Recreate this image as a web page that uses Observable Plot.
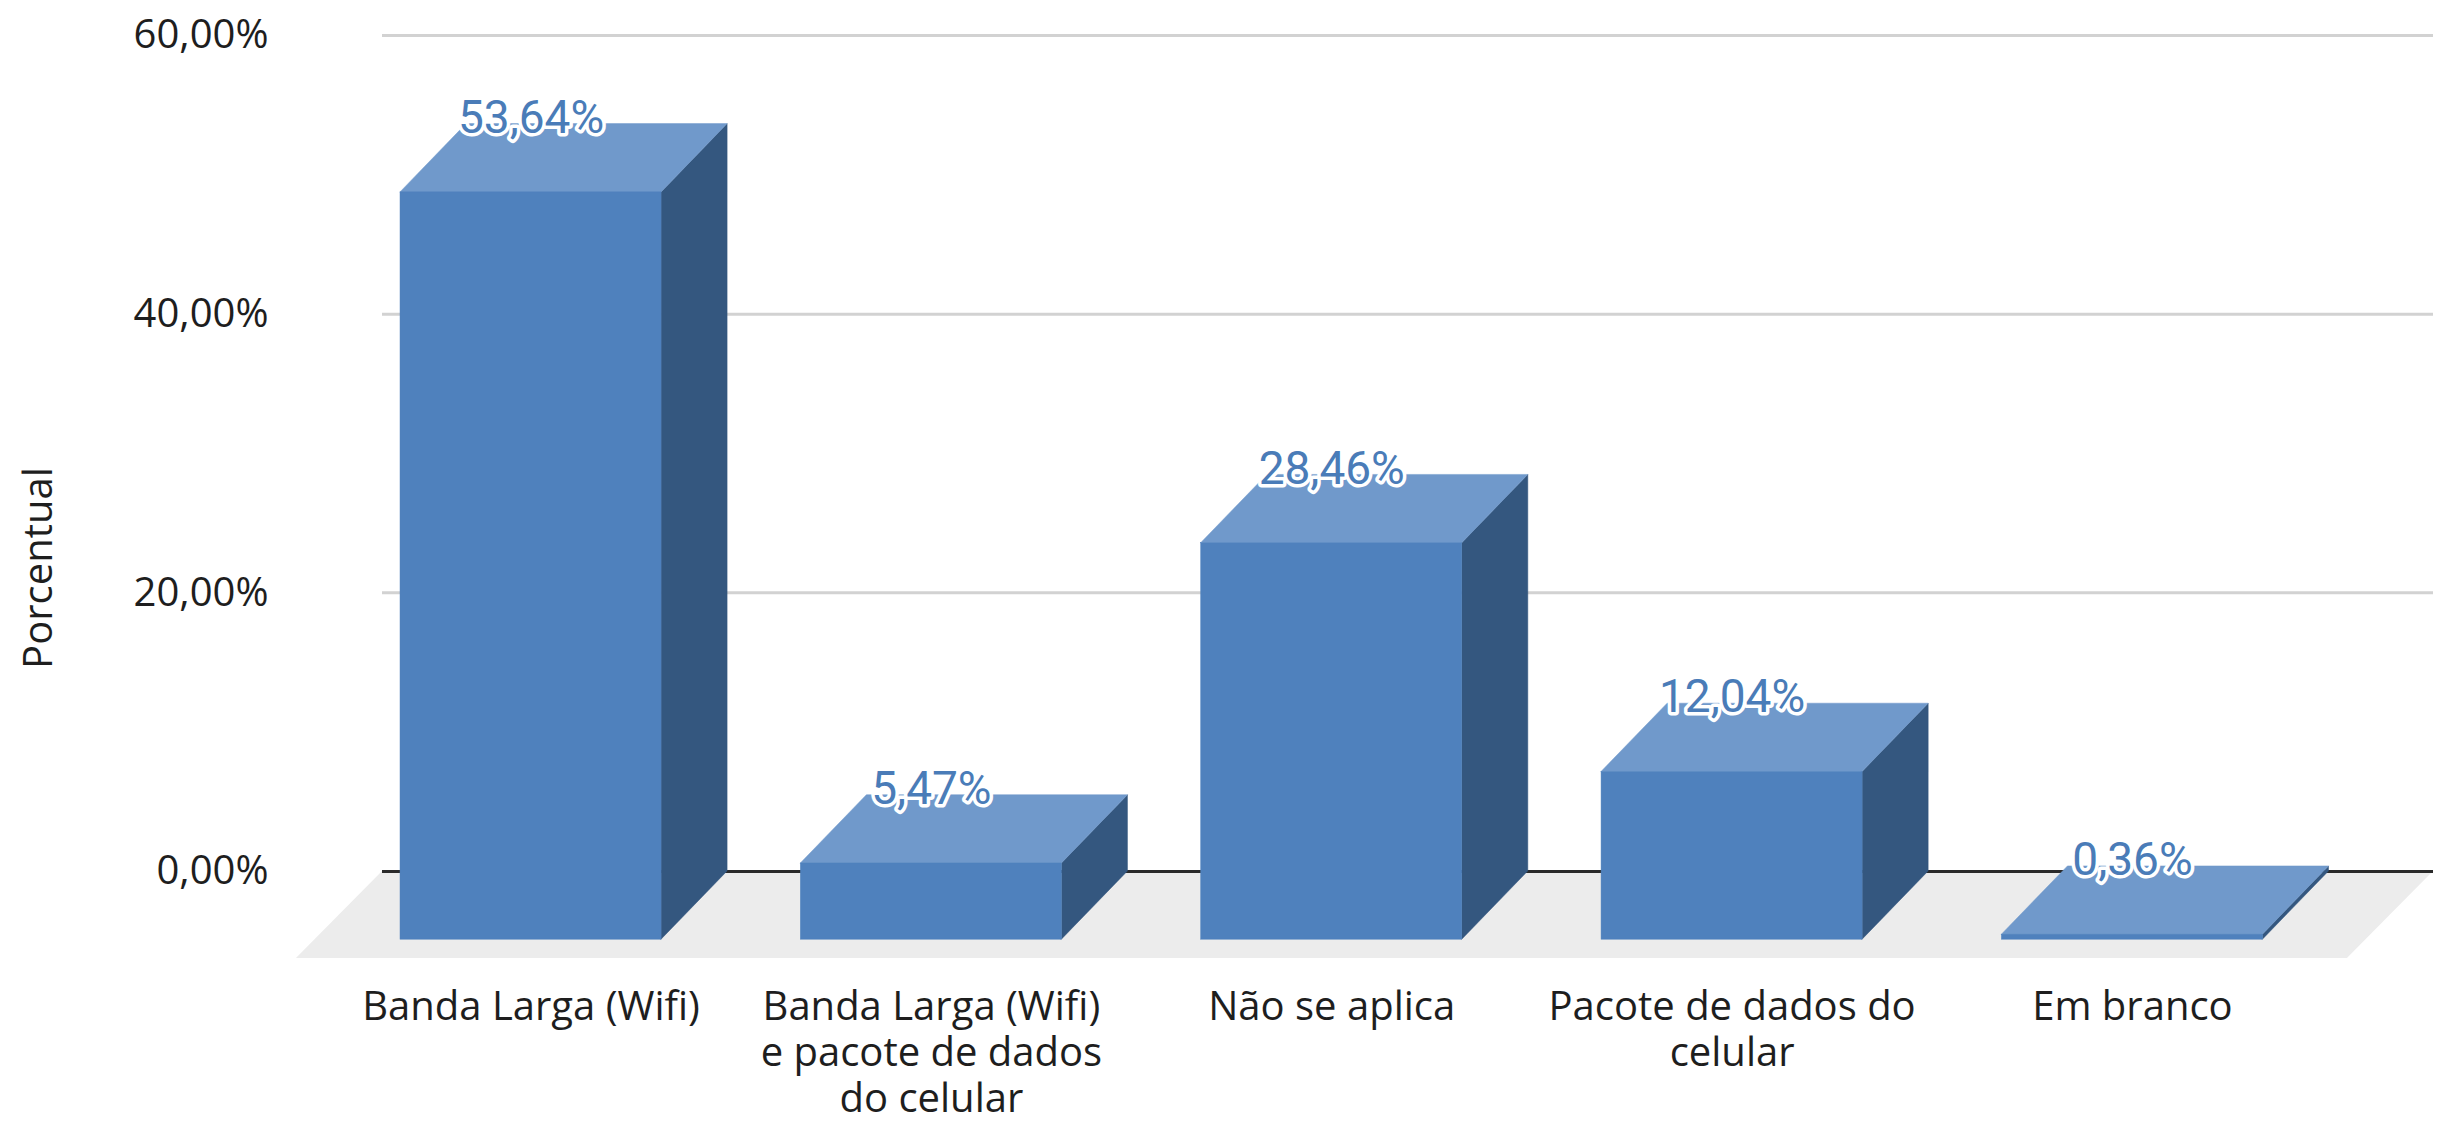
<!DOCTYPE html>
<html><head><meta charset="utf-8">
<script src="https://cdn.jsdelivr.net/npm/d3@7"></script>
<script src="https://cdn.jsdelivr.net/npm/@observablehq/plot@0.6"></script>
<style>html,body{margin:0;padding:0;background:#fff;}</style>
</head><body><div id="chart"></div>
<script>
// ---- data ----
const categories = ["Banda Larga (Wifi)", "Banda Larga (Wifi) e pacote de dados do celular", "Não se aplica", "Pacote de dados do celular", "Em branco"];
const categoryLabels = ["Banda Larga (Wifi)", "Banda Larga (Wifi)\ne pacote de dados\ndo celular", "Não se aplica", "Pacote de dados do\ncelular", "Em branco"];
const values = [53.64, 5.47, 28.46, 12.04, 0.36];
const yTicks = [0, 20, 40, 60];
const yLabel = "Porcentual";

// ---- 3D look (style constants) ----
const W = 2445, H = 1122;
const xDomain = [-0.536, 4.587];
const yDomain = [-6.25, 60];
const halfW = 0.326;   // half width of bar front face (category units)
const depthX = 0.165;  // bar depth, horizontal (category units)
const depthY = 4.9;    // bar depth, vertical (% units)
const floorDX = 0.215, floorDY = 6.25;

const colFront = "#4F81BD", colTop = "#7099CB", colSide = "#34577F";

const idx = values.map((v, i) => i);
const fmt = v => v.toFixed(2).replace(".", ",") + "%";

const front = idx.map(i => ({x1: i - halfW - depthX, x2: i + halfW - depthX, y1: -depthY, y2: values[i] - depthY}));
const topFace = idx.flatMap(i => [
  {k: i, y: values[i] - depthY, x1: i - halfW - depthX, x2: i + halfW - depthX},
  {k: i, y: values[i], x1: i - halfW, x2: i + halfW}
]);
const sideFace = idx.flatMap(i => [
  {k: i, x: i + halfW - depthX, y1: -depthY, y2: values[i] - depthY},
  {k: i, x: i + halfW, y1: 0, y2: values[i]}
]);
const floor = [
  {y: -floorDY, x1: xDomain[0] - floorDX, x2: xDomain[1] - floorDX},
  {y: 0, x1: xDomain[0], x2: xDomain[1]}
];

const chart = Plot.plot({
  width: W, height: H,
  marginLeft: 382, marginRight: 12, marginTop: 35, marginBottom: 164,
  x: {type: "linear", domain: xDomain, axis: null},
  y: {domain: yDomain},
  style: {fontFamily: "'Open Sans', sans-serif", fontSize: "40px", color: "#1e1e1e", background: "#fff"},
  marks: [
    Plot.areaX(floor, {y: "y", x1: "x1", x2: "x2", fill: "#ECECEC"}),
    Plot.ruleY(yTicks.filter(d => d > 0), {stroke: "#D2D2D2", strokeWidth: 3}),
    Plot.ruleY([0], {stroke: "#2a2a2a", strokeWidth: 3}),
    Plot.axisY({ticks: yTicks, tickFormat: fmt, tickSize: 0, tickPadding: 114, fontSize: 40, label: null}),
    Plot.text([yLabel], {frameAnchor: "left", textAnchor: "middle", lineAnchor: "middle", dx: -343, dy: 71, rotate: -90, fontSize: 40, fill: "#1e1e1e"}),
    Plot.areaY(sideFace, {x: "x", y1: "y1", y2: "y2", z: "k", fill: colSide, stroke: colSide, strokeWidth: 0.5}),
    Plot.areaX(topFace, {y: "y", x1: "x1", x2: "x2", z: "k", fill: colTop, stroke: colTop, strokeWidth: 0.5}),
    Plot.rect(front, {x1: "x1", x2: "x2", y1: "y1", y2: "y2", fill: colFront, stroke: colFront, strokeWidth: 0.5}),
    Plot.text(idx, {x: i => i - depthX, text: i => categoryLabels[i], frameAnchor: "bottom", lineAnchor: "top", dy: 29, lineHeight: 1.15, fontSize: 40, fill: "#1e1e1e"}),
    Plot.text(idx, {x: i => i - depthX, y: i => values[i], text: i => fmt(values[i]), dy: -6, lineAnchor: "middle",
      fontFamily: "Roboto, sans-serif", fontSize: 46, fill: "#4A7CB8", stroke: "#fff", strokeWidth: 7, paintOrder: "stroke"})
  ]
});
document.getElementById("chart").appendChild(chart);
</script>
</body></html>
